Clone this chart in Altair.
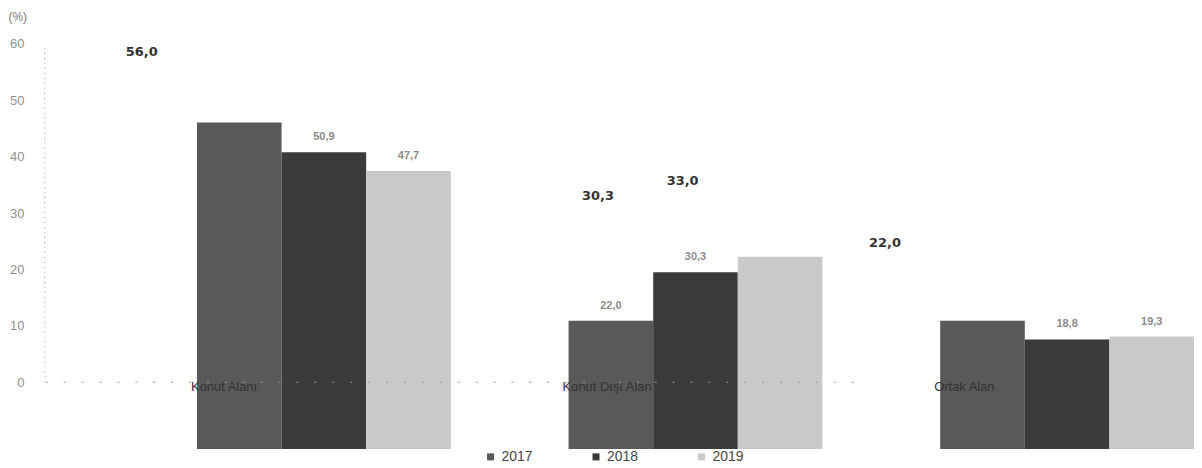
import altair as alt
import pandas as pd

# ---- data ----
categories = ["Konut Alanı", "Konut Dışı Alan", "Ortak Alan"]
years = ["2017", "2018", "2019"]
values_2017 = [56.0, 22.0, 22.0]
values_2018 = [50.9, 30.3, 18.8]
values_2019 = [47.7, 33.0, 19.3]
# how each bar's value label appears in the reference (small grey above bar / bold shifted)
gray_label_2017 = [False, True, False]
gray_label_2018 = [True, True, True]
gray_label_2019 = [True, False, True]
bold_label_2017 = [True, False, True]
bold_label_2018 = [False, True, False]
bold_label_2019 = [False, True, False]
y_ticks = [0, 10, 20, 30, 40, 50, 60]
year_colors = ["#595959", "#3b3b3b", "#c9c9c9"]

rows = []
for yr, vals, g, b in [
    ("2017", values_2017, gray_label_2017, bold_label_2017),
    ("2018", values_2018, gray_label_2018, bold_label_2018),
    ("2019", values_2019, gray_label_2019, bold_label_2019),
]:
    for c, v, gg, bb in zip(categories, vals, g, b):
        rows.append({"cat": c, "year": yr, "value": v,
                     "label": f"{v:.1f}".replace(".", ","), "gray": gg, "bold": bb})
df = pd.DataFrame(rows)
cat_df = pd.DataFrame({"cat": categories})
one_df = pd.DataFrame({"cat": categories[:1]})

W, H = 1154, 430

x_scale = alt.Scale(domain=categories, paddingInner=0.317, paddingOuter=0.2034, align=1)
x_enc = alt.X("cat:N", sort=categories, axis=None, scale=x_scale)
xo_enc = alt.XOffset("year:N", sort=years, scale=alt.Scale(paddingInner=0, paddingOuter=0))
y_bar = alt.Y("value:Q", axis=None, scale=alt.Scale(domain=[0, 73.42], nice=False, zero=True))

color_enc = alt.Color(
    "year:N", sort=years,
    scale=alt.Scale(domain=years, range=year_colors),
    legend=alt.Legend(
        title=None, orient="none", legendX=440, legendY=431, direction="horizontal",
        columns=3, symbolType="square", symbolSize=50, symbolStrokeWidth=0,
        labelFontSize=14, labelFont="Liberation Sans", labelColor="#444444",
        labelOffset=4, columnPadding=56, padding=0,
    ),
)

base = alt.Chart(df)

bars = base.mark_bar().encode(x=x_enc, xOffset=xo_enc, y=y_bar, color=color_enc)

gray_labels = base.transform_filter("datum.gray").mark_text(
    font="Liberation Sans", fontSize=11, fontWeight="bold", color="#8a8a8a",
    baseline="middle", dy=-15,
).encode(x=x_enc, xOffset=xo_enc, y=y_bar, text="label:N")

group1 = alt.layer(bars, gray_labels)

y_ax_scale = alt.Scale(domain=[-11.82, 64.06], nice=False, zero=False)
y_axis = alt.Axis(
    values=y_ticks, orient="left", domain=False, ticks=False, tickSize=0, grid=False,
    labelColor="#8f8f8f", labelFont="Liberation Sans", labelFontSize=13, labelPadding=22,
    title="(%)", titleAngle=0, titleX=-38, titleY=-5, titleAlign="left",
    titleBaseline="middle", titleColor="#777777", titleFontWeight="normal",
    titleFontSize=12, titleFont="Liberation Sans",
)

bold_labels = base.transform_filter("datum.bold").mark_text(
    font="DejaVu Sans", fontSize=13, fontWeight="bold", color="#333333",
    baseline="middle", dx=-98, dy=-15,
).encode(
    x=x_enc, xOffset=xo_enc,
    y=alt.Y("value:Q", scale=y_ax_scale, axis=y_axis),
    text="label:N",
)

axis_line = alt.Chart(one_df).mark_rule(color="#999999", strokeDash=[1, 4], strokeWidth=1).encode(
    x=alt.value(-1), y=alt.datum(y_ticks[0]), y2=alt.datum(y_ticks[-1])
)

base_line = alt.Chart(one_df).mark_rule(color="#999999", strokeDash=[2, 16], strokeWidth=1).encode(
    x=alt.value(0), x2=alt.value(824), y=alt.datum(0)
)

cat_labels = alt.Chart(cat_df).mark_text(
    align="left", baseline="middle", dx=-6, dy=5, fontSize=13,
    font="Liberation Sans", color="#333333",
).encode(
    x=alt.X("cat:N", sort=categories, axis=None, bandPosition=0, scale=x_scale),
    y=alt.datum(0),
    text="cat:N",
)

group2 = alt.layer(axis_line, bold_labels, base_line, cat_labels)

chart = alt.layer(group1, group2).resolve_scale(y="independent").properties(
    width=W, height=H, autosize="none", background="white",
    padding={"left": 38, "top": 12, "right": 0, "bottom": 16},
).configure_view(stroke=None)

chart.save("out.html", embed_options={"renderer": "svg", "actions": False})
